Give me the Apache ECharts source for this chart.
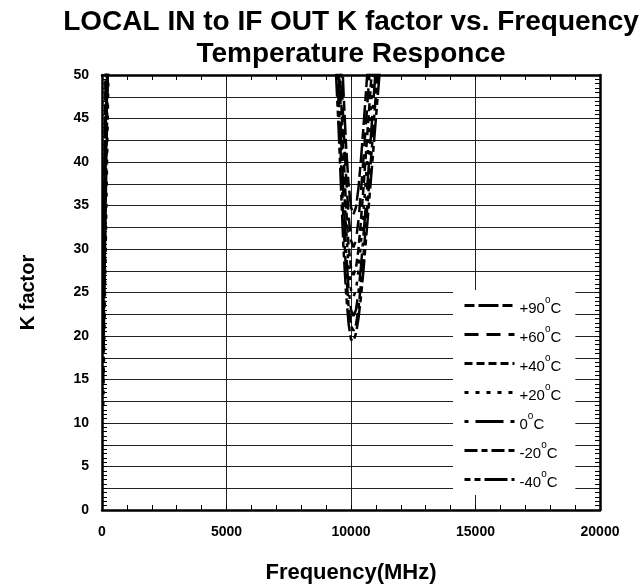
<!DOCTYPE html>
<html>
<head>
<meta charset="utf-8">
<script src="https://cdn.jsdelivr.net/npm/echarts@6/dist/echarts.min.js"></script>
<style>
html,body{margin:0;padding:0;background:#fff;}
#chart{width:641px;height:584px;}
</style>
</head>
<body>
<div id="chart"></div>
<script>
// Frequency points (MHz)
const frequencies = [50, 300, 9300, 9400, 9500, 9600, 9700, 9800, 9900, 10000, 10100, 10200, 10300, 10400, 10500, 10600, 10700, 10800, 10900, 11000, 11100, 11200, 11300];

// K factor per temperature
const k_p90 = [28, 85, 82, 72, 63, 55, 48, 42, 37.5, 34.8, 34, 34.8, 37, 40.3, 44, 48, 52, 56, 60, 64, 68, 72, 76];
const k_p60 = [20, 66, 78, 68, 59, 51, 44, 38.5, 34, 31, 30.2, 31, 33.3, 36.6, 40.4, 44.4, 48.4, 52.4, 56.4, 60.4, 64, 68, 72];
const k_p40 = [25, 90, 74, 64, 55, 47.5, 41, 35, 30.5, 27.8, 27, 27.8, 30, 33.3, 37, 41, 45, 49, 53, 57, 61, 65, 69];
const k_p20 = [12, 58, 70, 60, 52, 45, 38.5, 32.5, 28, 25.3, 24.5, 25.3, 27.5, 30.7, 34.3, 38.2, 42.2, 46.3, 50.3, 54.5, 58.5, 62.5, 66.5];
const k_0   = [22, 75, 66, 57, 50, 43, 36, 30, 25.5, 23, 22.3, 23, 25, 28, 31.5, 35.2, 39, 43, 47, 51, 55, 59, 63];
const k_m20 = [15, 70, 62, 54, 47, 40, 33, 27.5, 23.5, 21.2, 20.6, 21.3, 23.2, 26, 29.2, 32.8, 36.5, 40.2, 44, 47.8, 51.5, 55, 59];
const k_m40 = [18, 62, 58, 50, 44, 37, 30, 25, 21.5, 19.6, 19.4, 20.3, 22, 24.5, 27.5, 31, 34.5, 38, 41.5, 45, 48.5, 52, 55.5];

const seriesNames = ['+90°C', '+60°C', '+40°C', '+20°C', '0°C', '-20°C', '-40°C'];
const seriesValues = [k_p90, k_p60, k_p40, k_p20, k_0, k_m20, k_m40];
const dashes = [
  [10, 4, 20, 4],
  [14, 8],
  [8, 4],
  [4, 7],
  [4, 7, 28, 7],
  [13, 4, 6, 4],
  [6, 4, 6, 4, 23, 4]
];

const FONT = '"Liberation Sans", Arial, sans-serif';

const chart = echarts.init(document.getElementById('chart'), null, {renderer: 'canvas'});

const series = seriesNames.map((name, i) => ({
  name: name,
  type: 'line',
  xAxisIndex: 0,
  yAxisIndex: 0,
  symbol: 'none',
  showSymbol: false,
  clip: true,
  animation: false,
  data: frequencies.map((f, j) => [f, seriesValues[i][j]]),
  lineStyle: {color: '#000', width: 2.5, type: dashes[i]},
  itemStyle: {color: '#000'}
}));

const option = {
  animation: false,
  backgroundColor: '#fff',
  title: {
    text: 'LOCAL IN to IF OUT K factor vs. Frequency\nTemperature Responce',
    left: 346,
    top: 1,
    textAlign: 'center',
    textStyle: {fontFamily: FONT, fontWeight: 'bold', fontSize: 28, lineHeight: 32, color: '#000'}
  },
  grid: {left: 102, right: 41, top: 75, bottom: 74, outerBoundsMode: 'none', containLabel: false},
  legend: {
    orient: 'vertical',
    left: 453,
    top: 290,
    backgroundColor: '#fff',
    padding: [5, 14, 5, 10],
    itemWidth: 50,
    itemHeight: 14,
    itemGap: 8,
    data: seriesNames,
    itemStyle: {opacity: 0},
    lineStyle: {width: 3},
    formatter: function (name) {
      const parts = name.split('°');
      return '{n|' + parts[0] + '}{s|o}{n|' + parts[1] + '}';
    },
    textStyle: {
      fontFamily: FONT,
      color: '#000',
      fontSize: 15,
      rich: {
        n: {fontFamily: FONT, fontSize: 15, color: '#000', padding: [6, 0, 0, 0]},
        s: {fontFamily: FONT, fontSize: 10, color: '#000', verticalAlign: 'top', padding: [0, 0, 0, 0]}
      }
    }
  },
  xAxis: [
    {
      type: 'value', min: 0, max: 20000, interval: 5000,
      position: 'bottom',
      name: 'Frequency(MHz)', nameLocation: 'middle', nameGap: 52,
      nameTextStyle: {fontFamily: FONT, fontWeight: 'bold', fontSize: 22, color: '#000'},
      axisLine: {show: true, onZero: false, lineStyle: {color: '#000', width: 2.5}},
      axisTick: {show: true, inside: true, length: 5, lineStyle: {color: '#000', width: 1}},
      minorTick: {show: true, splitNumber: 5, length: 5, lineStyle: {color: '#000', width: 1}},
      axisLabel: {fontFamily: FONT, fontWeight: 'bold', fontSize: 14, color: '#000', margin: 15,
        formatter: function (v) { return String(v); }},
      splitLine: {show: true, lineStyle: {color: '#222', width: 1}}
    },
    {
      type: 'value', min: 0, max: 20000, interval: 5000,
      position: 'top',
      axisLine: {show: true, onZero: false, lineStyle: {color: '#000', width: 2.5}},
      axisTick: {show: true, inside: true, length: 5, lineStyle: {color: '#000', width: 1}},
      minorTick: {show: true, splitNumber: 5, length: 5, lineStyle: {color: '#000', width: 1}},
      axisLabel: {show: false},
      splitLine: {show: false}
    }
  ],
  yAxis: [
    {
      type: 'value', min: 0, max: 50, interval: 2.5,
      position: 'left',
      name: 'K factor', nameLocation: 'middle', nameGap: 64, nameRotate: 90,
      nameTextStyle: {fontFamily: FONT, fontWeight: 'bold', fontSize: 20, color: '#000'},
      axisLine: {show: true, onZero: false, lineStyle: {color: '#000', width: 2.5}},
      axisTick: {show: true, inside: true, length: 5, lineStyle: {color: '#000', width: 1}},
      minorTick: {show: true, splitNumber: 5, length: 5, lineStyle: {color: '#000', width: 1}},
      axisLabel: {
        fontFamily: FONT, fontWeight: 'bold', fontSize: 14, color: '#000', margin: 13,
        formatter: function (v) { return (v % 5 === 0) ? String(v) : ''; }
      },
      splitLine: {show: true, lineStyle: {color: '#222', width: 1}}
    },
    {
      type: 'value', min: 0, max: 50, interval: 2.5,
      position: 'right',
      axisLine: {show: true, onZero: false, lineStyle: {color: '#000', width: 2.5}},
      axisTick: {show: true, inside: true, length: 5, lineStyle: {color: '#000', width: 1}},
      minorTick: {show: true, splitNumber: 5, length: 5, lineStyle: {color: '#000', width: 1}},
      axisLabel: {show: false},
      splitLine: {show: false}
    }
  ],
  series: series
};

chart.setOption(option);
</script>
</body>
</html>
